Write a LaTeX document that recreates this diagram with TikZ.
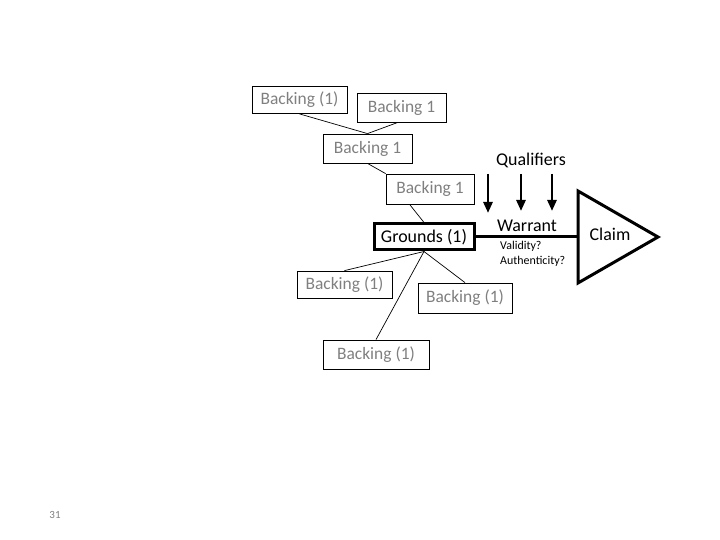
\documentclass[tikz,border=0pt]{standalone}
\usepackage{fontspec}
\setmainfont{Carlito}
\usetikzlibrary{arrows.meta,calc}
\definecolor{txtgray}{HTML}{7F7F7F}
\tikzset{
  back/.style={draw=black, line width=0.8bp, text=txtgray, font=\fontsize{17.5}{20}\selectfont, inner sep=0pt, minimum height=#1},
  lnk/.style={draw=black, line width=0.7bp},
  qarrow/.style={line width=2.6bp, -{Triangle[width=9bp,length=11bp]}},
  lbl/.style={font=\fontsize{18}{21}\selectfont, inner sep=0pt},
  small/.style={font=\fontsize{12}{14}\selectfont, inner sep=0pt, anchor=west}
}
\begin{document}
\begin{tikzpicture}[x=1bp,y=-1bp]
\useasboundingbox (0,0) rectangle (720,540);
% backing boxes
\node[back=27bp, minimum width=95bp] (B1) at (299.5,100) {Backing (1)};
\node[back=29bp, minimum width=89bp] (B2) at (401.5,107.5) {Backing 1};
\node[back=29bp, minimum width=89bp] (B3) at (367.5,148.5) {Backing 1};
\node[back=30bp, minimum width=88bp] (B4) at (430,189) {Backing 1};
\node[draw=black, line width=3bp, inner sep=0pt, minimum width=100bp, minimum height=26bp, font=\fontsize{18}{21}\selectfont] (G) at (424,237) {Grounds (1)};
\node[back=27bp, minimum width=95bp] (BL) at (344.5,284.5) {Backing (1)};
\node[back=30bp, minimum width=94bp] (BR) at (465,298) {Backing (1)};
\node[back=29bp, minimum width=106bp] (BB) at (376,354.5) {Backing (1)};
% connectors
\draw[lnk] (B1.south) -- (B3.north);
\draw[lnk] ($(B2.south west)!0.46!(B2.south east)$) -- (B3.north);
\draw[lnk] (B3.south) -- (B4.north west);
\draw[lnk] ($(B4.south west)!0.27!(B4.south east)$) -- (G.north);
\draw[lnk] (G.south) -- (BL.north);
\draw[lnk] (G.south) -- (BB.north);
\draw[lnk] (G.south) -- (BR.north);
% qualifiers
\node[lbl] (Q) at (531,160) {Qualifiers};
\coordinate (q1s) at (488,174); \coordinate (q1e) at (488,213);
\coordinate (q2s) at (521,174); \coordinate (q2e) at (521,211);
\coordinate (q3s) at (552,174); \coordinate (q3e) at (552,211);
\draw[qarrow] (q1s) -- (q1e);
\draw[qarrow] (q2s) -- (q2e);
\draw[qarrow] (q3s) -- (q3e);
% warrant & claim
\coordinate (T1) at (578,191);
\coordinate (T2) at (578,283);
\coordinate (T3) at (658,237);
\coordinate (TL) at (578,237);
\draw[line width=3bp] (G.east) -- (TL);
\draw[line width=3bp, line join=miter] (T1) -- (T3) -- (T2) -- cycle;
\node[lbl] (W) at (527,226) {Warrant};
\node[small] (V) at (500,246) {Validity?};
\node[small] (A) at (500,261) {Authenticity?};
\node[lbl] (C) at (610,234) {Claim};
% page number
\node[font=\fontsize{11}{13}\selectfont, text=txtgray, inner sep=0pt] (P) at (55,515) {31};
\end{tikzpicture}
\end{document}
